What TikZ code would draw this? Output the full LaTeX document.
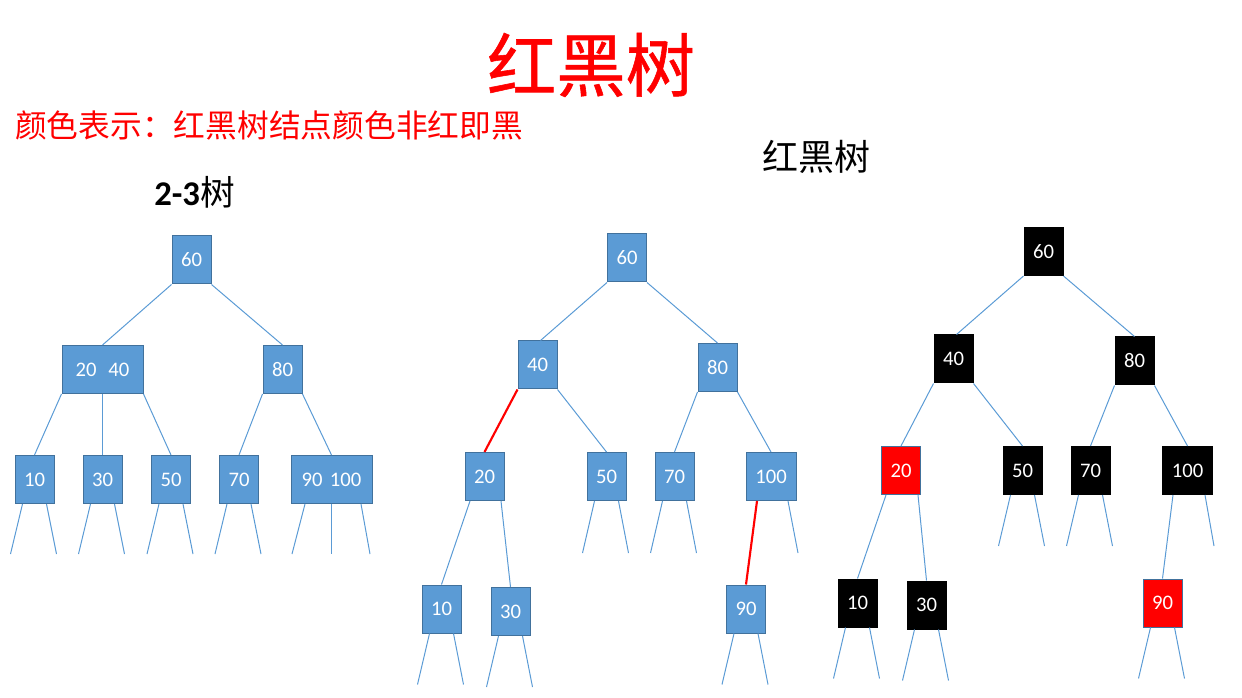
\documentclass[tikz,border=0pt]{standalone}
\usepackage{fontspec}
\setmainfont{Carlito}
\newfontfamily\cjk{Noto Sans CJK SC}
\newfontfamily\cjkt[FakeBold=0.8]{Noto Sans CJK SC}
\usetikzlibrary{calc}
\definecolor{boxblue}{HTML}{5B9BD5}
\definecolor{boxedge}{HTML}{41719C}
\definecolor{ired}{HTML}{FF0000}
% stub from node south: #1 node, #2 start dx, #3 end dx, #4 end dy, #5 name of free end
\newcommand\mystub[5]{\coordinate (#5) at ($(#1.south)+(#3,#4)$);
  \draw[link] ($(#1.south)+(#2,0)$) -- (#5);}
\newcommand\mystubs[2]{\mystub{#1}{-12}{-24}{#2}{#1-l}\mystub{#1}{12}{22}{#2}{#1-r}}
\begin{document}
\begin{tikzpicture}[x=0.75pt,y=-0.75pt,
  kbox/.style={draw=boxedge,line width=0.75pt,fill=boxblue,text=white,
    minimum width=29.25pt,minimum height=36pt,inner sep=0pt,
    font=\fontsize{15.5}{17}\selectfont},
  wide/.style={minimum width=60.75pt},
  mid/.style={minimum width=37.5pt},
  blk/.style={kbox,draw=black,fill=black},
  rbox/.style={kbox,fill=ired},
  link/.style={draw=boxblue,line width=0.75pt},
  rlink/.style={draw=ired,line width=1.6pt}]
\useasboundingbox (0,0) rectangle (1242,698);

% titles
\node[text=ired,font=\cjkt\fontsize{52}{56}\selectfont] (title) at (591,65) {红黑树};
\node[anchor=west,inner sep=0pt,text=ired,font=\cjk\fontsize{23.8}{26}\selectfont] (sub) at (15,125) {颜色表示：红黑树结点颜色非红即黑};
\node[font=\cjk\fontsize{27}{30}\selectfont] (rbt) at (816,157) {红黑树};
\node[anchor=west,inner sep=0pt,font=\fontsize{26}{30}\selectfont] (tt) at (154,192) {\textbf{2-3}{\cjk 树}};

% 2-3 tree
\node[kbox] (a60) at (191.5,260) {60};
\node[kbox,wide] (a2040) at (102.5,369.5) {20\hspace{9pt}40};
\node[kbox] (a80) at (282.5,369.5) {80};
\node[kbox] (a10) at (34.5,479.5) {10};
\node[kbox] (a30) at (102.5,479.5) {30};
\node[kbox] (a50) at (171,479.5) {50};
\node[kbox] (a70) at (239,479.5) {70};
\node[kbox,wide] (a90) at (331.5,479.5) {90\hspace{5.5pt}100};
\draw[link] (a60.south west) -- (a2040.north);
\draw[link] (a60.south east) -- (a80.north);
\draw[link] (a2040.south west) -- (a10.north);
\draw[link] (a2040.south) -- (a30.north);
\draw[link] (a2040.south east) -- (a50.north);
\draw[link] (a80.south west) -- (a70.north);
\draw[link] (a80.south east) -- (a90.north);
\mystubs{a10}{50}\mystubs{a30}{50}\mystubs{a50}{50}\mystubs{a70}{50}
\mystub{a90}{-26.5}{-39.5}{50}{a90-l}
\mystub{a90}{0}{0}{50}{a90-m}
\mystub{a90}{29.5}{38.5}{50}{a90-r}

% middle tree
\node[kbox] (b60) at (627,258) {60};
\node[kbox] (b40) at (537.5,365) {40};
\node[kbox] (b80) at (717.5,367.5) {80};
\node[kbox] (b20) at (484.5,476.5) {20};
\node[kbox] (b50) at (606.5,476.5) {50};
\node[kbox] (b70) at (674.5,476.5) {70};
\node[kbox,mid] (b100) at (771,476.5) {100};
\node[kbox] (b10) at (441.5,609) {10};
\node[kbox] (b30) at (510.5,611.5) {30};
\node[kbox] (b90) at (746,609) {90};
\draw[link] (b60.south west) -- ($(b40.north)+(3,0)$);
\draw[link] (b60.south east) -- (b80.north);
\draw[rlink] (b40.south west) -- (b20.north);
\draw[link] (b40.south east) -- (b50.north);
\draw[link] (b80.south west) -- (b70.north);
\draw[link] (b80.south east) -- (b100.north);
\draw[link] ($(b20.south)+(-14.5,0)$) -- (b10.north);
\draw[link] ($(b20.south)+(16.5,0)$) -- (b30.north);
\draw[rlink] ($(b100.south)+(-14,0)$) -- (b90.north);
\mystub{b100}{17}{27}{52}{b100-r}
\mystubs{b50}{52}\mystubs{b70}{52}
\mystubs{b10}{51}\mystubs{b30}{51}\mystubs{b90}{51}

% red-black tree
\node[blk] (c60) at (1043.5,251.5) {60};
\node[blk] (c40) at (953.5,359) {40};
\node[blk] (c80) at (1134.5,361) {80};
\node[rbox] (c20) at (901,470.5) {20};
\node[blk] (c50) at (1022.5,470.5) {50};
\node[blk] (c70) at (1090.5,470.5) {70};
\node[blk,mid] (c100) at (1187.5,470.5) {100};
\node[blk] (c10) at (857.5,603) {10};
\node[blk] (c30) at (926.5,605) {30};
\node[rbox] (c90) at (1162.5,603) {90};
\draw[link] (c60.south west) -- ($(c40.north)+(3,0)$);
\draw[link] (c60.south east) -- (c80.north);
\draw[link] (c40.south west) -- (c20.north);
\draw[link] (c40.south east) -- (c50.north);
\draw[link] (c80.south west) -- (c70.north);
\draw[link] (c80.south east) -- (c100.north);
\draw[link] ($(c20.south)+(-15,0)$) -- (c10.north);
\draw[link] ($(c20.south)+(17,0)$) -- (c30.north);
\draw[link] ($(c100.south)+(-14.5,0)$) -- (c90.north);
\mystub{c100}{17.5}{26.5}{51}{c100-r}
\mystubs{c50}{51}\mystubs{c70}{51}
\mystubs{c10}{51}\mystubs{c30}{51}\mystubs{c90}{51}
\end{tikzpicture}
\end{document}
